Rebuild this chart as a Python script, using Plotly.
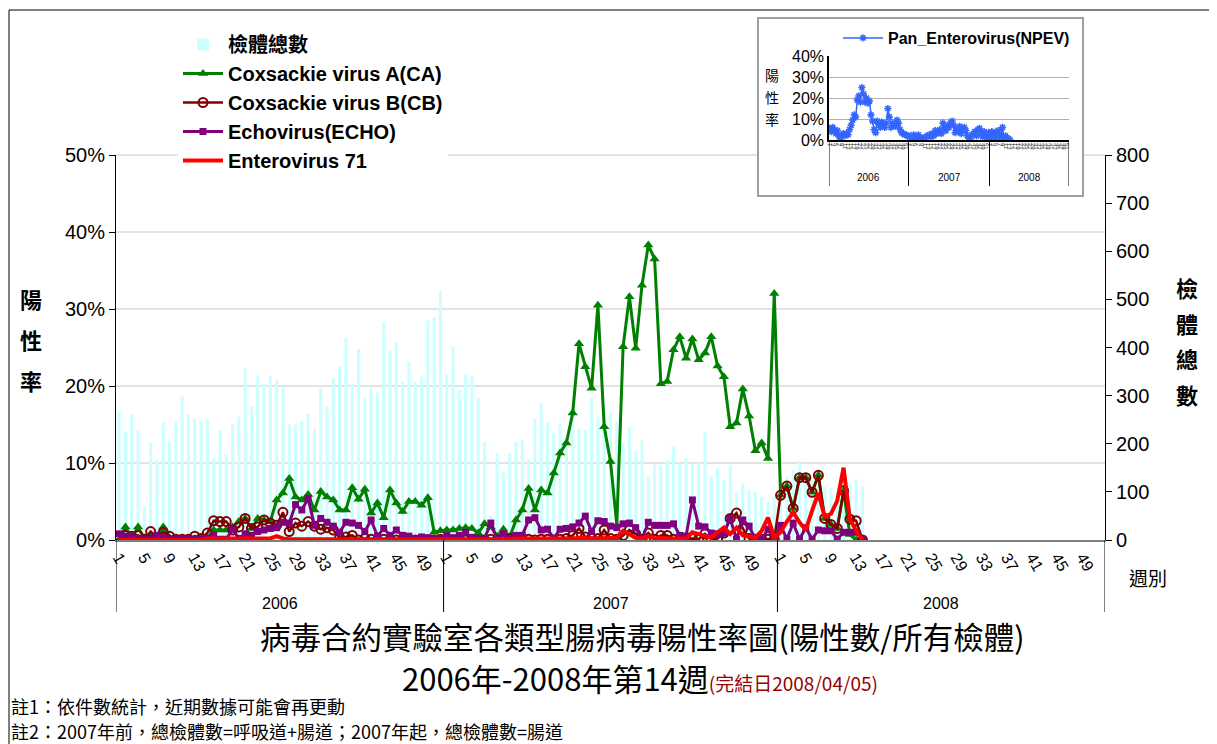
import plotly.graph_objects as go

# ---------------- data ----------------
years = ["2006", "2007", "2008"]
weeks_in_year = [52, 53, 52]
week_tick_labels = [1, 5, 9, 13, 17, 21, 25, 29, 33, 37, 41, 45, 49]
inset_tick_labels = [1, 3, 5, 7, 9, 11, 13, 15, 17, 19, 21, 23, 25, 27, 29, 31, 33, 35, 37, 39, 41, 43, 45, 47, 49, 51]

total_2006 = [267, 225, 260, 227, 71, 202, 166, 244, 206, 247, 298, 262, 252, 247, 251, 168, 227, 177, 240, 256,
              356, 277, 342, 324, 342, 331, 319, 240, 240, 247, 263, 231, 315, 277, 337, 360, 419, 326, 397, 296,
              315, 306, 453, 394, 410, 329, 371, 329, 340, 456, 463, 518]
total_2007 = [344, 402, 312, 344, 341, 296, 203, 50, 181, 143, 181, 204, 208, 168, 252, 285, 245, 220, 241, 215,
              263, 231, 229, 296, 256, 263, 265, 247, 202, 235, 185, 209, 133, 157, 154, 166, 195, 159, 171, 159,
              159, 224, 132, 151, 125, 156, 100, 118, 105, 100, 90, 78, 90]
total_2008 = [95, 132, 146, 164, 140, 125, 115, 111, 108, 100, 132, 118, 125, 111]

ca_2006 = [0, 1.7, 0.3, 1.7, 0.1, 0.5, 0.1, 1.7, 0.3, 0, 0, 0, 0, 0.2, 0.3, 1.3, 1.3, 1.3, 1.7, 2.4,
           2.8, 1.5, 2.8, 2.6, 2.4, 5.2, 6.1, 8.0, 5.6, 5.2, 5.9, 3.9, 6.3, 5.6, 5.2, 3.9, 3.9, 6.8, 5.3, 6.6,
           3.5, 4.8, 2.9, 6.5, 4.8, 3.7, 5.0, 5.0, 4.5, 5.5, 1.0, 1.2]
ca_2007 = [1.3, 1.3, 1.5, 1.6, 1.5, 0.9, 2.1, 1.7, 0.5, 1.4, 0.4, 2.6, 3.9, 6.7, 3.9, 6.5, 6.1, 8.7, 11.3, 12.6,
           16.5, 25.5, 22.5, 19.7, 30.5, 14.7, 10.2, 1.9, 25.1, 31.6, 24.9, 33.1, 38.3, 36.5, 20.3, 20.6, 24.7, 26.4,
           23.6, 26.1, 23.4, 24.3, 26.4, 22.6, 21.2, 14.7, 15.2, 19.6, 16.1, 11.6, 12.6, 10.6, 32.0]
ca_2008 = [5.8, 7.0, 4.1, 8.1, 8.1, 6.2, 8.4, 2.8, 2.0, 1.5, 6.4, 0.7, 0, 0]

cb_2006 = [0.5, 0.6, 0.5, 0.6, 0.1, 1.1, 0.3, 1.0, 0.5, 0.1, 0.1, 0.1, 0.5, 0.2, 0.9, 2.5, 2.4, 2.4, 1.3, 1.7,
           2.8, 1.5, 1.7, 2.6, 2.2, 1.9, 3.6, 1.1, 2.2, 1.8, 2.4, 1.8, 1.4, 1.6, 1.3, 0.3, 0.4, 0.6, 0, 0.2,
           0.1, 0, 0.1, 0, 0, 0, 0, 0, 0.1, 0, 0, 0.1]
cb_2007 = [0.1, 0, 0.1, 0, 0.1, 0, 0, 0.1, 0, 0, 0.2, 0.3, 0.1, 0.1, 0, 0.1, 0.1, 0, 0.1, 0.2,
           0.6, 1.5, 0.4, 0.3, 0.2, 1.3, 0.2, 0.1, 0.6, 1.3, 0.8, 0.1, 0.9, 0.1, 0.6, 0.6, 0.1, 0.1, 0.1, 0.2,
           0.1, 0.8, 0.1, 0.2, 0.9, 2.8, 3.5, 1.5, 0.2, 0.1, 0.1, 0.1, 0.1]
cb_2008 = [5.8, 7.0, 4.1, 8.1, 8.1, 6.2, 8.4, 2.8, 2.0, 1.5, 6.4, 2.7, 2.5, 0]

echo_2006 = [0.8, 0.5, 0.5, 0.2, 0.1, 0.1, 0.6, 0.3, 0.1, 0.1, 0.1, 0.1, 0.1, 0.1, 0.2, 0.6, 0.1, 0.1, 1.4, 0.2,
             0.8, 0.5, 1.1, 1.3, 1.5, 1.6, 2.3, 2.2, 4.6, 3.9, 5.4, 1.9, 2.8, 2.3, 1.8, 1.0, 2.3, 2.2, 1.9, 1.1,
             2.6, 0.5, 1.5, 0.6, 1.3, 0.6, 0.5, 0.2, 0.4, 0.3, 0.2, 0.2]
echo_2007 = [0.6, 0.3, 0.6, 1.0, 0.3, 0.2, 0.2, 2.2, 0.1, 0.8, 0.1, 0.6, 0.6, 2.6, 2.9, 1.3, 1.4, 0.2, 1.4, 1.5,
             1.7, 2.2, 3.1, 1.1, 2.5, 2.4, 1.8, 1.6, 2.1, 2.2, 1.6, 0.1, 2.3, 1.9, 1.9, 1.9, 2.1, 0.6, 0.5, 5.2,
             1.8, 1.7, 0.9, 0.8, 0.9, 2.8, 0.1, 2.6, 1.8, 0.1, 0.1, 1.4, 0.1]
echo_2008 = [1.9, 0.1, 2.2, 0.1, 1.6, 0.1, 1.3, 1.2, 1.2, 0.1, 1.0, 1.0, 1.0, 0.1]

ev71_2006 = [0, 0, 0, 0, 0, 0, 0, 0, 0, 0, 0, 0, 0, 0, 0.2, 0.2, 0.2, 0.2, 0.2, 0.2,
             0.2, 0.2, 0.2, 0.2, 0.2, 0.5, 0.2, 0.1, 0.1, 0.1, 0.1, 0.1, 0.1, 0.1, 0.1, 0, 0, 0, 0, 0,
             0, 0, 0, 0, 0, 0, 0, 0, 0, 0, 0, 0]
ev71_2007 = [0.1, 0.1, 0.1, 0.1, 0.1, 0.1, 0.1, 0.1, 0.1, 0.1, 0.1, 0.2, 0.2, 0.1, 0.1, 0.1, 0.1, 0.1, 0.1, 0.1,
             0.2, 0.3, 0.2, 0.2, 0.2, 0.2, 0.2, 0.3, 1.2, 0.8, 0.3, 0.2, 0.5, 0.2, 0.3, 0.2, 0.2, 0.3, 0.2, 1.0,
             0.8, 0.5, 0.3, 1.0, 1.6, 0.8, 1.6, 0.6, 0.4, 0.3, 1.2, 2.9, 0.3]
ev71_2008 = [1.0, 2.4, 3.6, 2.3, 1.3, 3.8, 6.1, 3.0, 3.4, 5.1, 9.4, 2.7, 1.2, 0]

npev_2006 = [5.5, 4.0, 6.0, 4.5, 3.0, 4.5, 2.0, 0.5, 2.5, 3.0, 2.0, 3.0, 2.5, 5.0, 7.0, 9.5, 12.0, 11.0, 19.0, 21.0,
             18.0, 25.0, 22.0, 18.0, 20.0, 17.5, 18.5, 12.0, 9.0, 5.0, 3.5, 9.0, 7.5, 6.0, 8.5, 7.0, 6.0, 8.0, 15.0, 11.0,
             6.0, 8.0, 7.0, 6.5, 9.5, 8.0, 5.0, 3.5, 3.0, 2.5, 2.5, 2.0]
npev_2007 = [1.5, 2.0, 1.0, 2.5, 1.5, 1.0, 2.5, 0.5, 1.0, 0.5, 1.0, 1.5, 2.0, 2.5, 1.5, 3.0, 2.0, 4.5, 3.0, 4.0,
             5.0, 3.0, 8.0, 6.0, 4.5, 7.0, 6.0, 8.0, 9.0, 7.0, 3.5, 5.0, 4.0, 6.5, 3.0, 5.5, 6.0, 4.5, 2.0, 1.0,
             0.5, 2.5, 3.0, 4.0, 2.0, 5.0, 5.5, 3.0, 1.5, 4.0, 2.0, 1.0, 3.5]
npev_2008 = [1.0, 4.0, 2.0, 0.5, 3.5, 4.5, 1.0, 2.5, 6.0, 0.5, 2.0, 1.0, 0.5, 0.0]

series_names = ["檢體總數", "Coxsackie virus A(CA)", "Coxsackie virus B(CB)", "Echovirus(ECHO)", "Enterovirus 71"]
inset_name = "Pan_Enterovirus(NPEV)"


# ---------------- helpers ----------------
def join_years(*parts):
    out = []
    for part, n in zip(parts, weeks_in_year):
        out.extend(list(part) + [None] * (n - len(part)))
    return out


offsets = []
acc = 0
for n in weeks_in_year:
    offsets.append(acc)
    acc += n
n_total = acc
x_all = list(range(n_total))

total = join_years(total_2006, total_2007, total_2008)
ca = join_years(ca_2006, ca_2007, ca_2008)
cb = join_years(cb_2006, cb_2007, cb_2008)
echo = join_years(echo_2006, echo_2007, echo_2008)
ev71 = join_years(ev71_2006, ev71_2007, ev71_2008)
npev = join_years(npev_2006, npev_2007, npev_2008)

tickvals, ticktext = [], []
for off in offsets:
    for w in week_tick_labels:
        tickvals.append(off + w - 1)
        ticktext.append(str(w))
in_tickvals, in_ticktext = [], []
for off in offsets:
    for w in inset_tick_labels:
        in_tickvals.append(off + w - 1)
        in_ticktext.append(str(w))

W, H = 1217, 744
PAGE = 8  # default page margin of the html body


def px(x):
    return (x - PAGE) / W


def py(y):
    return 1 - (y - PAGE) / H


LAT = "Liberation Sans, Arial, Noto Sans CJK TC"
CJK = "Noto Sans CJK TC, Liberation Sans"

fig = go.Figure()

fig.add_trace(go.Bar(x=x_all, y=total, name=series_names[0], marker=dict(color="#CCFFFF", line=dict(width=0)),
                     yaxis="y", xaxis="x", legendrank=1))
fig.add_trace(go.Scatter(x=x_all, y=ca, name=series_names[1], mode="lines+markers", yaxis="y2",
                         line=dict(color="#008000", width=3),
                         marker=dict(symbol="triangle-up", size=9, color="#008000"), legendrank=2))
fig.add_trace(go.Scatter(x=x_all, y=cb, name=series_names[2], mode="lines+markers", yaxis="y2",
                         line=dict(color="#800000", width=2.5),
                         marker=dict(symbol="circle-open", size=9, color="#800000", line=dict(width=2)),
                         legendrank=3))
fig.add_trace(go.Scatter(x=x_all, y=echo, name=series_names[3], mode="lines+markers", yaxis="y2",
                         line=dict(color="#800080", width=3),
                         marker=dict(symbol="square", size=7, color="#800080"), legendrank=4))
fig.add_trace(go.Scatter(x=x_all, y=ev71, name=series_names[4], mode="lines", yaxis="y2",
                         line=dict(color="#FF0000", width=4), legendrank=5))
# carrier for grid-only axis
fig.add_trace(go.Scatter(x=[], y=[], yaxis="y4", showlegend=False, hoverinfo="skip"))

# inset
fig.add_trace(go.Scatter(x=x_all, y=npev, name=inset_name, mode="lines+markers", xaxis="x3", yaxis="y3",
                         line=dict(color="#3366FF", width=1.5),
                         marker=dict(symbol="asterisk-open", size=6, color="#3366FF",
                                     line=dict(width=1.5, color="#3366FF")),
                         legend="legend2"))

xdom = [px(116), px(1105)]
ydom = [py(540), py(155)]

fig.update_layout(
    width=W, height=H,
    autosize=False,
    margin=dict(l=0, r=0, t=0, b=0, pad=0, autoexpand=False),
    paper_bgcolor="white", plot_bgcolor="white",
    bargap=0.5,
    showlegend=True,
    font=dict(family=LAT, color="black"),
    xaxis=dict(domain=xdom, range=[-0.5, n_total - 0.5], anchor="y", automargin=False,
               tickmode="array", tickvals=tickvals, ticktext=ticktext, tickangle=60,
               tickfont=dict(family=LAT, size=16, color="black"),
               showline=True, linecolor="#808080", linewidth=2, ticks="", showgrid=False, zeroline=False),
    yaxis=dict(domain=ydom, range=[0, 800], side="right", anchor="x", dtick=100, automargin=False,
               tickfont=dict(family=LAT, size=20, color="black"),
               showline=True, linecolor="black", linewidth=1, ticks="outside", ticklen=6, tickcolor="black",
               showgrid=False, zeroline=False),
    yaxis2=dict(domain=ydom, range=[0, 50], overlaying="y", side="left", anchor="x", automargin=False,
                tickmode="array", tickvals=[0, 10, 20, 30, 40, 50],
                ticktext=["0%", "10%", "20%", "30%", "40%", "50%"],
                tickfont=dict(family=LAT, size=20, color="black"),
                showline=True, linecolor="black", linewidth=1, ticks="outside", ticklen=6, tickcolor="black",
                showgrid=False, zeroline=False),
    yaxis4=dict(domain=ydom, range=[0, 50], overlaying="y", side="left", anchor="x", automargin=False,
                tickmode="array", tickvals=[10, 20, 30, 40], showticklabels=False, ticks="",
                showgrid=True, gridcolor="#E3E3E3", gridwidth=2, showline=False, zeroline=False),
    xaxis3=dict(domain=[px(829), px(1069)], range=[-0.5, n_total - 0.5], anchor="y3", automargin=False,
                tickmode="array", tickvals=in_tickvals, ticktext=in_ticktext, tickangle=90,
                tickfont=dict(family=LAT, size=6, color="#444444"),
                showline=True, linecolor="black", linewidth=1.5, ticks="", showgrid=False, zeroline=False),
    yaxis3=dict(domain=[py(140), py(56)], range=[0, 40], anchor="x3", automargin=False,
                tickmode="array", tickvals=[0, 10, 20, 30, 40], ticktext=["0%", "10%", "20%", "30%", "40%"],
                tickfont=dict(family=LAT, size=16, color="black"),
                showline=True, linecolor="black", linewidth=1.5, ticks="",
                showgrid=True, gridcolor="#B0B0B0", gridwidth=1, zeroline=False),
    legend=dict(x=px(178), y=py(25), xanchor="left", yanchor="top", bgcolor="white",
                font=dict(family=LAT, size=20, color="black", weight="bold"),
                itemwidth=40, traceorder="normal", tracegroupgap=0),
    legend2=dict(x=px(838), y=py(21), xanchor="left", yanchor="top", bgcolor="rgba(0,0,0,0)",
                 font=dict(family=LAT, size=16, color="black", weight="bold"), itemwidth=40),
)

shapes = []
# 50% gridline (partly hidden by legend and inset)
shapes.append(dict(type="line", xref="paper", yref="paper", x0=xdom[0], x1=xdom[1], y0=ydom[1], y1=ydom[1],
                   line=dict(color="#E3E3E3", width=2), layer="below"))
# outer frame
shapes.append(dict(type="rect", xref="paper", yref="paper", x0=px(9), x1=px(1213), y0=-0.05, y1=py(10),
                   line=dict(color="black", width=1), fillcolor="rgba(0,0,0,0)", layer="below"))
# inset frame
shapes.append(dict(type="rect", xref="paper", yref="paper", x0=px(758), x1=px(1083), y0=py(196), y1=py(18),
                   line=dict(color="#A0A0A0", width=2), fillcolor="white", layer="below"))
# year dividers
bounds = [-0.5]
for off, n in zip(offsets, weeks_in_year):
    bounds.append(off + n - 0.5)
for b in bounds:
    shapes.append(dict(type="line", xref="x", yref="paper", x0=b, x1=b, y0=py(612), y1=py(540),
                       line=dict(color="black", width=1)))
    shapes.append(dict(type="line", xref="x3", yref="paper", x0=b, x1=b, y0=py(186), y1=py(140),
                       line=dict(color="black", width=1)))
fig.update_layout(shapes=shapes)


def label(x, y, text, size, family=CJK, xref="paper", bold=False, xanchor="center", color="black"):
    return dict(x=x, y=y, xref=xref, yref="paper", text=text, showarrow=False,
                xanchor=xanchor, yanchor="middle",
                font=dict(family=family, size=size, color=color, weight="bold" if bold else "normal"))


ann = []
for yr, off, n in zip(years, offsets, weeks_in_year):
    c = off + (n - 1) / 2
    ann.append(label(c, py(603), yr, 16, family=LAT, xref="x"))
    ann.append(label(c, py(177), yr, 10, family=LAT, xref="x3"))

for i, ch in enumerate("陽性率"):
    ann.append(label(px(31), py(298 + 41 * i), ch, 22, bold=True))
for i, ch in enumerate("檢體總數"):
    ann.append(label(px(1187), py(287 + 35.5 * i), ch, 22, bold=True))
for i, ch in enumerate("陽性率"):
    ann.append(label(px(772), py(75 + 22 * i), ch, 14))

ann.append(label(px(1148), py(577), "週別", 19))
ann.append(label(px(642), py(636), "病毒合約實驗室各類型腸病毒陽性率圖(陽性數/所有檢體)", 30.5))
ann.append(label(px(640), py(677),
                 "2006年-2008年第14週<span style='font-size:19px;color:#990000'>(完結日2008/04/05)</span>", 31))
ann.append(label(px(9), py(706), "註1：依件數統計，近期數據可能會再更動", 18, xanchor="left"))
ann.append(label(px(9), py(731), "註2：2007年前，總檢體數=呼吸道+腸道；2007年起，總檢體數=腸道", 18, xanchor="left"))
fig.update_layout(annotations=ann)

fig.write_html("out.html")
